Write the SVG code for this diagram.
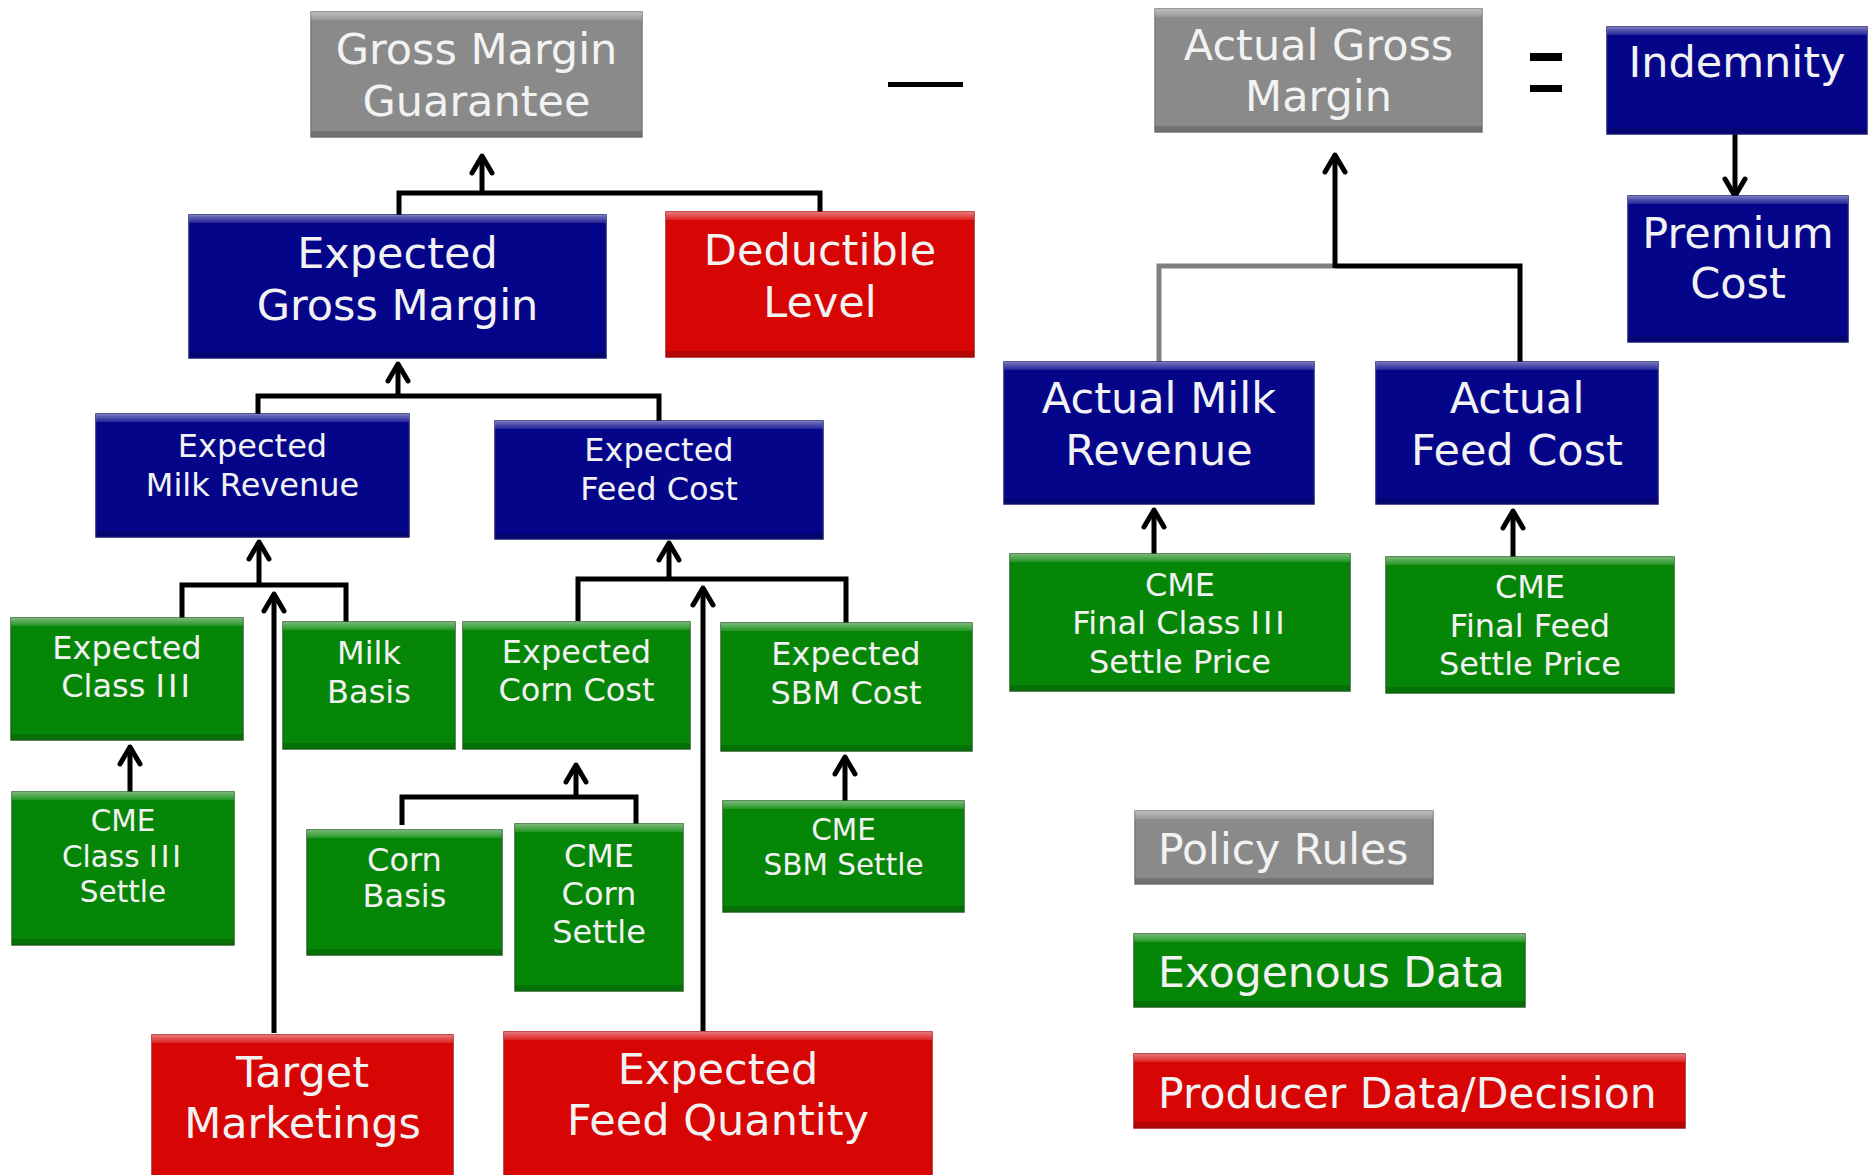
<svg xmlns="http://www.w3.org/2000/svg" width="1875" height="1175" viewBox="0 0 1875 1175">
<style>
.g{fill:#8a8a8a;stroke:#7a7a7a;stroke-width:1.5}
.b{fill:#05058a;stroke:#1a1a78;stroke-width:1.5}
.r{fill:#d80505;stroke:#b01010;stroke-width:1.5}
.gr{fill:#068606;stroke:#1f6a1f;stroke-width:1.5}
.top{fill:url(#shine)}
.bot{fill:#000;fill-opacity:.16}
.t{font-family:"DejaVu Sans",Verdana,sans-serif;fill:#f2f2f2;text-anchor:middle}
.lg{font-family:"DejaVu Sans",Verdana,sans-serif;fill:#f2f2f2;font-size:42.5px}
.L{font-size:43px}
.M{font-size:32px}
.S{font-size:29.5px}
.ii{letter-spacing:3px}
.c{fill:none;stroke:#000;stroke-width:5}
.cg{fill:none;stroke:#808080;stroke-width:5}
.a{marker-end:url(#arr)}
</style>
<defs>
<linearGradient id="shine" x1="0" y1="0" x2="0" y2="1">
<stop offset="0" stop-color="#fff" stop-opacity=".45"/>
<stop offset="1" stop-color="#fff" stop-opacity=".12"/>
</linearGradient>
<marker id="arr" viewBox="-22 -13 26 26" refX="0" refY="0" markerWidth="26" markerHeight="26" orient="auto" markerUnits="userSpaceOnUse">
<path d="M-17,-10 L0,0 L-17,10" fill="none" stroke="#000" stroke-width="5" stroke-linecap="round" stroke-linejoin="round"/>
</marker>
</defs>
<rect width="1875" height="1175" fill="#fff"/>

<g id="connectors">
<path class="c" d="M399,215 V193 H820 V212"/>
<path class="c a" d="M482,193 V156"/>
<path class="cg" d="M1159,362 V266 H1335"/>
<path class="c" d="M1520,362 V266 H1335"/>
<path class="c a" d="M1335,268 V155"/>
<path class="c a" d="M1735,134 V196"/>
<path class="c" d="M258,414 V396 H659 V421"/>
<path class="c a" d="M398,396 V364"/>
<path class="c" d="M182,618 V585 H346 V622"/>
<path class="c a" d="M259,585 V542"/>
<path class="c a" d="M274,1033 V594"/>
<path class="c a" d="M130,792 V747"/>
<path class="c" d="M578,621 V579 H846 V623"/>
<path class="c a" d="M669,579 V543"/>
<path class="c a" d="M703,1031 V588"/>
<path class="c" d="M402,825 V797 H636 V824"/>
<path class="c a" d="M576,797 V765"/>
<path class="c a" d="M845,801 V757"/>
<path class="c a" d="M1154,554 V510"/>
<path class="c a" d="M1513,557 V511"/>
</g>

<g id="minus"><rect x="888" y="82" width="75" height="5" fill="#000"/></g>
<g id="equals"><rect x="1530" y="53" width="32" height="8" fill="#000"/><rect x="1530" y="85" width="32" height="7" fill="#000"/></g>

<g id="gross-margin-guarantee">
<rect class="g" x="311" y="12" width="331" height="125"/>
<rect class="top" x="311" y="12" width="331" height="8"/>
<rect class="bot" x="311" y="131" width="331" height="6"/>
<text class="t L" x="476.5" y="64">Gross Margin</text>
<text class="t L" x="476.5" y="116">Guarantee</text>
</g>

<g id="expected-gross-margin">
<rect class="b" x="189" y="215" width="417" height="143"/>
<rect class="top" x="189" y="215" width="417" height="8"/>
<rect class="bot" x="189" y="352" width="417" height="6"/>
<text class="t L" x="397.5" y="268">Expected</text>
<text class="t L" x="397.5" y="320">Gross Margin</text>
</g>

<g id="deductible-level">
<rect class="r" x="666" y="212" width="308" height="145"/>
<rect class="top" x="666" y="212" width="308" height="8"/>
<rect class="bot" x="666" y="351" width="308" height="6"/>
<text class="t L" x="820" y="265">Deductible</text>
<text class="t L" x="820" y="317">Level</text>
</g>

<g id="actual-gross-margin">
<rect class="g" x="1155" y="9" width="327" height="123"/>
<rect class="top" x="1155" y="9" width="327" height="8"/>
<rect class="bot" x="1155" y="126" width="327" height="6"/>
<text class="t L" x="1318.5" y="60">Actual Gross</text>
<text class="t L" x="1318.5" y="111">Margin</text>
</g>

<g id="indemnity">
<rect class="b" x="1607" y="27" width="260" height="107"/>
<rect class="top" x="1607" y="27" width="260" height="8"/>
<rect class="bot" x="1607" y="128" width="260" height="6"/>
<text class="t L" x="1737" y="77">Indemnity</text>
</g>

<g id="premium-cost">
<rect class="b" x="1628" y="196" width="220" height="146"/>
<rect class="top" x="1628" y="196" width="220" height="8"/>
<rect class="bot" x="1628" y="336" width="220" height="6"/>
<text class="t L" x="1738" y="248">Premium</text>
<text class="t L" x="1738" y="298">Cost</text>
</g>

<g id="actual-milk-revenue">
<rect class="b" x="1004" y="362" width="310" height="142"/>
<rect class="top" x="1004" y="362" width="310" height="8"/>
<rect class="bot" x="1004" y="498" width="310" height="6"/>
<text class="t L" x="1159" y="413">Actual Milk</text>
<text class="t L" x="1159" y="465">Revenue</text>
</g>

<g id="actual-feed-cost">
<rect class="b" x="1376" y="362" width="282" height="142"/>
<rect class="top" x="1376" y="362" width="282" height="8"/>
<rect class="bot" x="1376" y="498" width="282" height="6"/>
<text class="t L" x="1517" y="413">Actual</text>
<text class="t L" x="1517" y="465">Feed Cost</text>
</g>

<g id="cme-final-class-iii">
<rect class="gr" x="1010" y="554" width="340" height="137"/>
<rect class="top" x="1010" y="554" width="340" height="8"/>
<rect class="bot" x="1010" y="685" width="340" height="6"/>
<text class="t M" x="1180" y="596">CME</text>
<text class="t M" x="1180" y="634">Final Class <tspan class="ii">III</tspan></text>
<text class="t M" x="1180" y="673">Settle Price</text>
</g>

<g id="cme-final-feed">
<rect class="gr" x="1386" y="557" width="288" height="136"/>
<rect class="top" x="1386" y="557" width="288" height="8"/>
<rect class="bot" x="1386" y="687" width="288" height="6"/>
<text class="t M" x="1530" y="598">CME</text>
<text class="t M" x="1530" y="637">Final Feed</text>
<text class="t M" x="1530" y="675">Settle Price</text>
</g>

<g id="expected-milk-revenue">
<rect class="b" x="96" y="414" width="313" height="123"/>
<rect class="top" x="96" y="414" width="313" height="8"/>
<rect class="bot" x="96" y="531" width="313" height="6"/>
<text class="t M" x="252.5" y="457">Expected</text>
<text class="t M" x="252.5" y="496">Milk Revenue</text>
</g>

<g id="expected-feed-cost">
<rect class="b" x="495" y="421" width="328" height="118"/>
<rect class="top" x="495" y="421" width="328" height="8"/>
<rect class="bot" x="495" y="533" width="328" height="6"/>
<text class="t M" x="659" y="461">Expected</text>
<text class="t M" x="659" y="500">Feed Cost</text>
</g>

<g id="expected-class-iii">
<rect class="gr" x="11" y="618" width="232" height="122"/>
<rect class="top" x="11" y="618" width="232" height="8"/>
<rect class="bot" x="11" y="734" width="232" height="6"/>
<text class="t M" x="127" y="659">Expected</text>
<text class="t M" x="127" y="697">Class <tspan class="ii">III</tspan></text>
</g>

<g id="milk-basis">
<rect class="gr" x="283" y="622" width="172" height="127"/>
<rect class="top" x="283" y="622" width="172" height="8"/>
<rect class="bot" x="283" y="743" width="172" height="6"/>
<text class="t M" x="369" y="664">Milk</text>
<text class="t M" x="369" y="703">Basis</text>
</g>

<g id="cme-class-iii-settle">
<rect class="gr" x="12" y="792" width="222" height="153"/>
<rect class="top" x="12" y="792" width="222" height="8"/>
<rect class="bot" x="12" y="939" width="222" height="6"/>
<text class="t S" x="123" y="831">CME</text>
<text class="t S" x="123" y="867">Class <tspan class="ii">III</tspan></text>
<text class="t S" x="123" y="902">Settle</text>
</g>

<g id="corn-basis">
<rect class="gr" x="307" y="830" width="195" height="125"/>
<rect class="top" x="307" y="830" width="195" height="8"/>
<rect class="bot" x="307" y="949" width="195" height="6"/>
<text class="t M" x="404.5" y="871">Corn</text>
<text class="t M" x="404.5" y="907">Basis</text>
</g>

<g id="cme-corn-settle">
<rect class="gr" x="515" y="824" width="168" height="167"/>
<rect class="top" x="515" y="824" width="168" height="8"/>
<rect class="bot" x="515" y="985" width="168" height="6"/>
<text class="t M" x="599" y="867">CME</text>
<text class="t M" x="599" y="905">Corn</text>
<text class="t M" x="599" y="943">Settle</text>
</g>

<g id="expected-corn-cost">
<rect class="gr" x="463" y="622" width="227" height="127"/>
<rect class="top" x="463" y="622" width="227" height="8"/>
<rect class="bot" x="463" y="743" width="227" height="6"/>
<text class="t M" x="576.5" y="663">Expected</text>
<text class="t M" x="576.5" y="701">Corn Cost</text>
</g>

<g id="expected-sbm-cost">
<rect class="gr" x="721" y="623" width="251" height="128"/>
<rect class="top" x="721" y="623" width="251" height="8"/>
<rect class="bot" x="721" y="745" width="251" height="6"/>
<text class="t M" x="846" y="665">Expected</text>
<text class="t M" x="846" y="704">SBM Cost</text>
</g>

<g id="cme-sbm-settle">
<rect class="gr" x="723" y="801" width="241" height="111"/>
<rect class="top" x="723" y="801" width="241" height="8"/>
<rect class="bot" x="723" y="906" width="241" height="6"/>
<text class="t S" x="843.5" y="840">CME</text>
<text class="t S" x="843.5" y="875">SBM Settle</text>
</g>

<g id="target-marketings">
<rect class="r" x="152" y="1035" width="301" height="145"/>
<rect class="top" x="152" y="1035" width="301" height="8"/>
<text class="t L" x="302.5" y="1087">Target</text>
<text class="t L" x="302.5" y="1138">Marketings</text>
</g>

<g id="expected-feed-quantity">
<rect class="r" x="504" y="1032" width="428" height="150"/>
<rect class="top" x="504" y="1032" width="428" height="8"/>
<text class="t L" x="718" y="1084">Expected</text>
<text class="t L" x="718" y="1135">Feed Quantity</text>
</g>

<g id="legend-policy-rules">
<rect class="g" x="1135" y="811" width="298" height="73"/>
<rect class="top" x="1135" y="811" width="298" height="8"/>
<rect class="bot" x="1135" y="878" width="298" height="6"/>
<text class="lg" x="1158" y="864">Policy Rules</text>
</g>

<g id="legend-exogenous-data">
<rect class="gr" x="1134" y="934" width="391" height="73"/>
<rect class="top" x="1134" y="934" width="391" height="8"/>
<rect class="bot" x="1134" y="1001" width="391" height="6"/>
<text class="lg" x="1158" y="987">Exogenous Data</text>
</g>

<g id="legend-producer-data">
<rect class="r" x="1134" y="1054" width="551" height="74"/>
<rect class="top" x="1134" y="1054" width="551" height="8"/>
<rect class="bot" x="1134" y="1122" width="551" height="6"/>
<text class="lg" x="1158" y="1108">Producer Data/Decision</text>
</g>
</svg>
